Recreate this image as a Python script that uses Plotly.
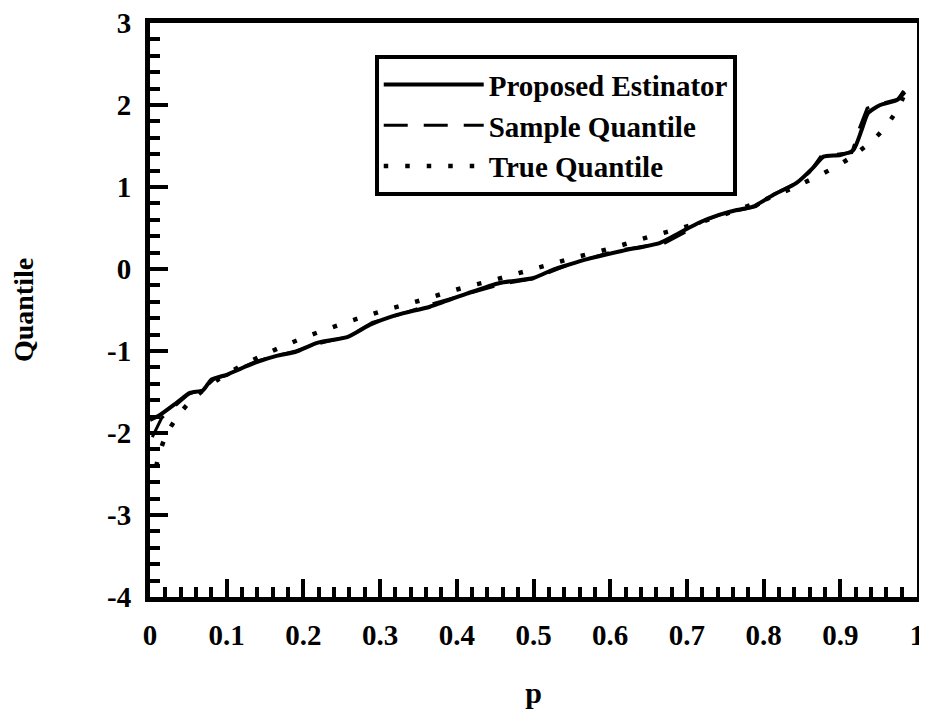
import plotly.graph_objects as go

# Proposed estimator (solid)
p_est = [0.0, 0.013, 0.035, 0.052, 0.069, 0.08, 0.10, 0.117, 0.141, 0.165, 0.19, 0.218, 0.257,
         0.287, 0.322, 0.365, 0.413, 0.456, 0.50, 0.525, 0.545, 0.57, 0.615, 0.665, 0.69, 0.717,
         0.742, 0.765, 0.786, 0.812, 0.843, 0.865, 0.878, 0.90, 0.917, 0.928, 0.936, 0.952,
         0.974, 0.984]
q_est = [-1.84, -1.78, -1.63, -1.51, -1.48, -1.35, -1.29, -1.22, -1.13, -1.06, -1.01, -0.90, -0.83,
         -0.68, -0.56, -0.46, -0.30, -0.17, -0.11, -0.01, 0.05, 0.12, 0.22, 0.32, 0.44, 0.57,
         0.66, 0.72, 0.76, 0.90, 1.05, 1.24, 1.37, 1.39, 1.45, 1.70, 1.90, 2.00, 2.06, 2.16]

# Sample quantile (dashed)
p_samp = [0.003, 0.015, 0.035, 0.05, 0.07, 0.085, 0.10, 0.12, 0.14, 0.165, 0.19, 0.22, 0.26,
          0.29, 0.32, 0.37, 0.41, 0.46, 0.50, 0.545, 0.57, 0.61, 0.67, 0.70, 0.72, 0.745, 0.77,
          0.79, 0.815, 0.845, 0.86, 0.875, 0.895, 0.915, 0.925, 0.935, 0.95, 0.975, 0.988]
q_samp = [-2.05, -1.82, -1.65, -1.53, -1.46, -1.33, -1.30, -1.20, -1.12, -1.06, -1.00, -0.91, -0.82,
          -0.65, -0.57, -0.42, -0.31, -0.18, -0.12, 0.05, 0.12, 0.23, 0.31, 0.46, 0.58, 0.67, 0.72,
          0.76, 0.92, 1.06, 1.18, 1.38, 1.40, 1.42, 1.72, 1.96, 2.01, 2.07, 2.25]

# True quantile (dotted)
p_true = [0.008, 0.012, 0.02, 0.03, 0.05, 0.075, 0.1, 0.15, 0.2, 0.25, 0.3, 0.35, 0.4, 0.45,
          0.5, 0.55, 0.6, 0.65, 0.7, 0.75, 0.8, 0.85, 0.9, 0.925, 0.95, 0.97, 0.98, 0.988]
q_true = [-2.41, -2.26, -2.05, -1.88, -1.64, -1.44, -1.28, -1.04, -0.84, -0.67, -0.52, -0.39,
          -0.25, -0.13, 0.0, 0.13, 0.25, 0.39, 0.52, 0.67, 0.84, 1.04, 1.28, 1.44, 1.64, 1.88,
          2.05, 2.26]

x_ticks = [0, 0.1, 0.2, 0.3, 0.4, 0.5, 0.6, 0.7, 0.8, 0.9, 1]
x_labels = ["0", "0.1", "0.2", "0.3", "0.4", "0.5", "0.6", "0.7", "0.8", "0.9", "1"]
y_ticks = [-4, -3, -2, -1, 0, 1, 2, 3]
y_labels = ["-4", "-3", "-2", "-1", "0", "1", "2", "3"]

FONT = "Liberation Serif"

fig = go.Figure()
fig.add_trace(go.Scatter(x=p_est, y=q_est, mode="lines", name="Proposed Estinator",
                         line=dict(color="black", width=4, shape="spline", smoothing=0.6)))
fig.add_trace(go.Scatter(x=p_samp, y=q_samp, mode="lines", name="Sample Quantile",
                         line=dict(color="black", width=3, dash="24px,16px")))
fig.add_trace(go.Scatter(x=p_true, y=q_true, mode="lines", name="True Quantile",
                         line=dict(color="black", width=4.5, dash="4.5px,17px", shape="spline")))

axis_common = dict(
    showgrid=False, zeroline=False, showline=True, linecolor="black", linewidth=5,
    mirror=True, ticks="inside", ticklen=18, tickwidth=4, tickcolor="black",
    tickfont=dict(family=FONT, size=29, color="black", weight="bold"),
    ticklabelstandoff=8, ticklabeloverflow="allow",
)

fig.update_xaxes(range=[0, 1], tickvals=x_ticks, ticktext=x_labels,
                 minor=dict(dtick=0.02, ticks="inside", ticklen=10, tickwidth=4, tickcolor="black"),
                 title=dict(text="p", font=dict(family=FONT, size=30, color="black", weight="bold"),
                            standoff=34),
                 **axis_common)
fig.update_yaxes(range=[-4, 3], tickvals=y_ticks, ticktext=y_labels,
                 minor=dict(dtick=0.2, ticks="inside", ticklen=10, tickwidth=4, tickcolor="black"),
                 title=dict(text="Quantile", font=dict(family=FONT, size=28, color="black", weight="bold"),
                            standoff=72),
                 **axis_common)

fig.update_layout(
    width=919, height=709,
    margin=dict(l=142, r=10, t=15, b=120, autoexpand=False),
    paper_bgcolor="white", plot_bgcolor="white",
    showlegend=True,
    legend=dict(x=0.293, y=0.944, xanchor="left", yanchor="top",
                bgcolor="white", bordercolor="black", borderwidth=4,
                font=dict(family=FONT, size=29, color="black", weight="bold"),
                itemwidth=100, tracegroupgap=0),
)

fig.write_html("out.html")
